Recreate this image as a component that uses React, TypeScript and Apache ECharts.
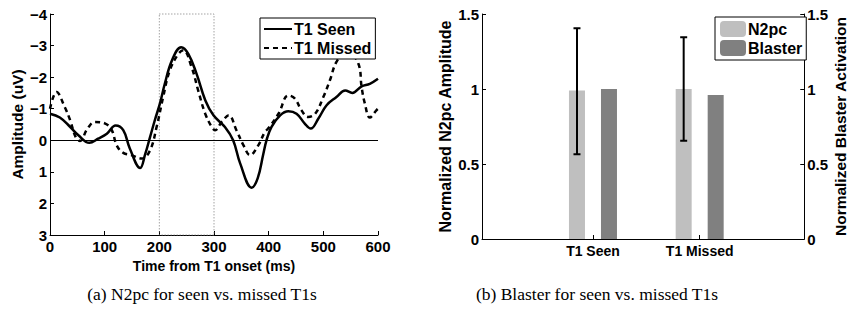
import React, { useEffect, useRef } from "react";
import * as echarts from "echarts";

// ---- Left panel data (time in ms, amplitude in uV) ----
const seenT = [0, 18, 37, 52, 72, 88, 104, 120, 134, 146, 165, 174, 183, 192, 201, 210, 223, 240, 253, 268, 284, 299, 320, 335, 348, 369, 380, 390, 396, 405, 421, 436, 451, 466, 477, 491, 506, 524, 540, 553, 570, 585, 600];
const seenV = [-0.84, -0.72, -0.42, -0.16, 0.08, -0.05, -0.21, -0.47, -0.32, 0.26, 0.88, 0.45, -0.1, -0.65, -1.16, -1.79, -2.53, -2.95, -2.74, -2.11, -1.27, -0.79, -0.42, 0, 0.74, 1.5, 1.2, 0.45, 0, -0.42, -0.79, -0.92, -0.84, -0.53, -0.37, -0.69, -1.11, -1.37, -1.58, -1.5, -1.71, -1.79, -1.95];

const missedT = [0, 12, 27, 37, 47, 55, 68, 82, 101, 113, 122, 134, 149, 168, 183, 195, 207, 219, 235, 244, 259, 271, 284, 296, 302, 314, 327, 341, 354, 366, 381, 393, 399, 418, 436, 448, 460, 472, 485, 500, 512, 524, 543, 564, 570, 576, 585, 597, 600];
const missedV = [-1.0, -1.53, -1.05, -0.63, -0.1, 0.02, -0.35, -0.58, -0.53, -0.32, 0.16, 0.4, 0.47, 0.58, 0.32, -0.42, -1.37, -2.21, -2.74, -2.85, -2.32, -1.58, -0.84, -0.42, -0.32, -0.58, -0.79, -0.32, 0.16, 0.47, 0.16, -0.26, -0.37, -0.84, -1.42, -1.32, -0.95, -0.74, -0.84, -1.37, -1.9, -2.48, -2.85, -2.43, -1.69, -1.16, -0.72, -0.95, -1.0];

const windowStart = 200;
const windowEnd = 300;

// ---- Right panel data ----
const categories = ["T1 Seen", "T1 Missed"];
const categoryPos = [1, 2];
const n2pcValues = [0.99, 1.0];
const blasterValues = [1.0, 0.96];
const n2pcErrLow = [0.565, 0.655];
const n2pcErrHigh = [1.405, 1.345];

const captions = ["(a) N2pc for seen vs. missed T1s", "(b) Blaster for seen vs. missed T1s"];

const FONT = "Liberation Sans";
const labelStyle = { color: "#000", fontFamily: FONT, fontWeight: "bold" as const, fontSize: 15 };
const nameStyle = { color: "#000", fontFamily: FONT, fontWeight: "bold" as const, fontSize: 14 };
const yNameStyle = { color: "#000", fontFamily: FONT, fontWeight: "bold" as const, fontSize: 15.5 };
const legendText = { color: "#000", fontFamily: FONT, fontWeight: "bold" as const, fontSize: 16 };
const axisLine = { show: true, onZero: false, lineStyle: { color: "#000", width: 1 } };
const axisTick = { show: true, inside: true, length: 4, lineStyle: { color: "#000", width: 1 } };

export default function App() {
  const ref = useRef<HTMLDivElement>(null);
  useEffect(() => {
    if (!ref.current) return;
    const chart = echarts.init(ref.current, null, { renderer: "svg" });
    const seenData = seenT.map((t, i) => [t, seenV[i]]);
    const missedData = missedT.map((t, i) => [t, missedV[i]]);
    const n2pcData = categoryPos.map((x, i) => [x, n2pcValues[i]]);
    const blasterData = categoryPos.map((x, i) => [x, blasterValues[i]]);
    const errData = categoryPos.map((x, i) => [x, n2pcErrLow[i], n2pcErrHigh[i]]);
    const fmtMinus = (v: number) => (v < 0 ? "\u2212" + Math.abs(v) : String(v));

    const option: any = {
      animation: false,
      textStyle: { fontFamily: FONT },
      grid: [
        { left: 50, right: 471, top: 14, bottom: 79 },
        { left: 482, right: 41, top: 14, bottom: 75 },
      ],
      xAxis: [
        {
          gridIndex: 0, type: "value", min: 0, max: 600, interval: 100,
          name: "Time from T1 onset (ms)", nameLocation: "middle", nameGap: 19, nameTextStyle: nameStyle,
          axisLine, axisTick, axisLabel: { ...labelStyle, margin: 4 }, splitLine: { show: false },
        },
        {
          gridIndex: 1, type: "value", min: -0.04, max: 2.98,
          axisLine, axisTick: { ...axisTick, customValues: categoryPos },
          axisLabel: { ...labelStyle, fontSize: 14, margin: 5, customValues: categoryPos, formatter: (v: number) => categories[Math.round(v) - 1] ?? "" },
          splitLine: { show: false },
        },
      ],
      yAxis: [
        {
          gridIndex: 0, type: "value", inverse: true, min: -4, max: 3, interval: 1,
          name: "Amplitude (uV)", nameLocation: "middle", nameGap: 25, nameRotate: 90, nameTextStyle: yNameStyle,
          axisLine, axisTick, axisLabel: { ...labelStyle, margin: 3, formatter: fmtMinus }, splitLine: { show: false },
        },
        {
          gridIndex: 1, type: "value", min: 0, max: 1.5, interval: 0.5,
          name: "Normalized N2pc Amplitude", nameLocation: "middle", nameGap: 29, nameRotate: 90, nameTextStyle: { ...yNameStyle, fontSize: 16 },
          axisLine, axisTick, axisLabel: { ...labelStyle, margin: 3 }, splitLine: { show: false },
        },
        {
          gridIndex: 1, type: "value", position: "right", min: 0, max: 1.5, interval: 0.5,
          name: "Normalized Blaster Activation", nameLocation: "middle", nameGap: 24, nameRotate: 90, nameTextStyle: yNameStyle,
          axisLine, axisTick, axisLabel: { ...labelStyle, margin: 3 }, splitLine: { show: false },
        },
      ],
      legend: [
        {
          data: ["T1 Seen", "T1 Missed"], orient: "vertical", left: 260, top: 18,
          itemWidth: 28, itemHeight: 16, itemGap: 3, padding: [3, 4, 3, 3],
          borderColor: "#000", borderWidth: 1, backgroundColor: "#fff",
          itemStyle: { opacity: 0 },
          textStyle: { ...legendText, padding: [0, 0, 0, -3] },
        },
        {
          data: ["N2pc", "Blaster"], orient: "vertical", left: 715, top: 17,
          itemWidth: 26, itemHeight: 16, itemGap: 3, padding: [4, 4, 4, 5],
          borderColor: "#000", borderWidth: 1, backgroundColor: "#fff",
          textStyle: { ...legendText, padding: [0, 0, 0, -3] },
        },
      ],
      series: [
        {
          name: "T1 Seen", type: "line", xAxisIndex: 0, yAxisIndex: 0, data: seenData,
          smooth: 0.4, symbol: "none", lineStyle: { color: "#000", width: 2.5 }, itemStyle: { color: "#000" },
          markLine: {
            silent: true, symbol: "none", label: { show: false },
            lineStyle: { color: "#000", width: 1, type: "solid" },
            data: [{ yAxis: 0 }],
          },
          z: 3,
        },
        {
          name: "T1 Missed", type: "line", xAxisIndex: 0, yAxisIndex: 0, data: missedData,
          smooth: 0.4, symbol: "none", lineStyle: { color: "#000", width: 2.5, type: [5, 4] }, itemStyle: { color: "#000" },
          markArea: {
            silent: true,
            itemStyle: { color: "rgba(0,0,0,0)", borderColor: "#777", borderWidth: 1, borderType: [1, 2] },
            data: [[{ xAxis: windowStart, yAxis: -4 }, { xAxis: windowEnd, yAxis: 3 }]],
          },
          z: 3,
        },
        {
          name: "N2pc", type: "bar", xAxisIndex: 1, yAxisIndex: 1, data: n2pcData,
          barWidth: 16, barGap: "100%", itemStyle: { color: "#bfbfbf" },
        },
        {
          name: "Blaster", type: "bar", xAxisIndex: 1, yAxisIndex: 2, data: blasterData,
          barWidth: 16, barGap: "100%", itemStyle: { color: "#808080" },
        },
        {
          name: "N2pc error", type: "custom", xAxisIndex: 1, yAxisIndex: 1, data: errData, z: 5,
          encode: { x: 0, y: [1, 2] },
          renderItem: (params: any, api: any) => {
            const x = api.value(0);
            const top = api.coord([x, api.value(2)]);
            const bot = api.coord([x, api.value(1)]);
            const cx = top[0] - 16;
            const cap = 3.5;
            const st = { stroke: "#000", lineWidth: 2 };
            return {
              type: "group",
              children: [
                { type: "line", shape: { x1: cx, y1: top[1], x2: cx, y2: bot[1] }, style: st },
                { type: "line", shape: { x1: cx - cap, y1: top[1], x2: cx + cap, y2: top[1] }, style: st },
                { type: "line", shape: { x1: cx - cap, y1: bot[1], x2: cx + cap, y2: bot[1] }, style: st },
              ],
            };
          },
        },
      ],
      graphic: [
        { type: "text", x: 202, y: 294, style: { text: captions[0], fill: "#000", font: "17.5px 'Liberation Serif'", textAlign: "center", textVerticalAlign: "middle" } },
        { type: "text", x: 597, y: 294, style: { text: captions[1], fill: "#000", font: "17.5px 'Liberation Serif'", textAlign: "center", textVerticalAlign: "middle" } },
      ],
    };
    chart.setOption(option);
    return () => chart.dispose();
  }, []);
  return <div ref={ref} style={{ position: "fixed", left: 0, top: 0, width: 849, height: 314, background: "#fff" }} />;
}
